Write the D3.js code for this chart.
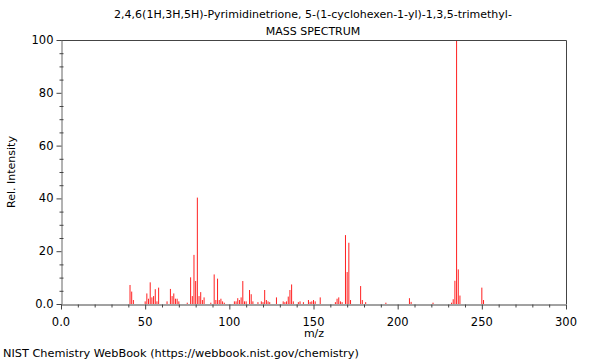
<!DOCTYPE html>
<html><head><meta charset="utf-8">
<script src="https://cdn.jsdelivr.net/npm/d3@7"></script>
<style>body{margin:0;background:#fff}svg{display:block}text{font-family:"DejaVu Sans",sans-serif;fill:#000}</style>
</head><body><svg id="c" width="600" height="360"></svg>
<script>
const titleLines = ["2,4,6(1H,3H,5H)-Pyrimidinetrione, 5-(1-cyclohexen-1-yl)-1,3,5-trimethyl-", "MASS SPECTRUM"];
const mzValues = [41,42,43,50,51,52,53,54,55,56,57,58,63,65,66,67,68,69,70,75,77,78,79,80,81,82,83,84,85,89,91,92,93,94,95,96,97,103,104,105,106,107,108,109,110,112,113,114,117,119,120,121,122,123,124,128,132,133,134,135,136,137,138,141,142,144,147,148,149,150,151,154,163,164,165,166,167,169,170,171,172,178,179,181,193,207,208,221,232,233,234,235,236,237,250,251];
const intensities = [7.2,4.7,1.5,1,4,2,8.2,2.5,3,5.6,1,6.2,1,5.7,3,4,2,2,1,0.5,10.1,3,18.6,8.7,40.3,3,4.5,1.5,2.5,0.5,11.2,1.5,9.6,1.5,2,1,0.5,1,1,2.2,1.5,2.5,8.7,1,1,5.3,3.7,1,0.7,1,0.7,5.3,1.5,1,0.7,2.5,1,0.7,1,2.8,5.3,7.4,1,0.7,1,0.7,1.5,0.8,1,1.5,1,2.5,0.7,2,2.5,1,0.7,26.1,12.1,23.2,1.5,6.8,1.5,0.7,0.5,2.2,0.8,0.5,0.5,1.8,8.8,100,13.1,3.2,6.2,1.5];
const xTicks = [0,50,100,150,200,250,300];
const xTickLabels = ["0.0","50","100","150","200","250","300"];
const yTicks = [0,20,40,60,80,100];
const yTickLabels = ["0.0","20","40","60","80","100"];
const xLabel = "m/z", yLabel = "Rel. Intensity";
const footer = "NIST Chemistry WebBook (https://webbook.nist.gov/chemistry)";

const svg = d3.select("#c");
const L=61, R=566, T=40, B=304;
const x = d3.scaleLinear().domain([0,300]).range([L,R]);
const y = d3.scaleLinear().domain([0,100]).range([B,T]);
const axisCol = "#444";

svg.selectAll("text.title").data(titleLines).join("text").attr("class","title")
  .attr("x",313).attr("y",(d,i)=>18+i*17).attr("text-anchor","middle").attr("font-size",11).text(d=>d);

svg.append("g").selectAll("line").data(mzValues).join("line")
  .attr("x1",d=>x(d)).attr("x2",d=>x(d)).attr("y1",y(0)).attr("y2",(d,i)=>y(intensities[i]))
  .attr("stroke","#ff2020").attr("stroke-width",1);

svg.append("path").attr("d",`M${L},${T+0.5}H${R+0.5}V${B}`).attr("fill","none").attr("stroke",axisCol).attr("stroke-width",1);

const gx = svg.append("g").attr("transform",`translate(0,${B+0.5})`);
gx.call(d3.axisBottom(x).tickValues(d3.range(0,301,10)).tickSize(3).tickFormat(""));
gx.call(g=>g.selectAll(".tick").filter(d=>d%50===0).select("line").attr("y2",5));
gx.select(".domain").attr("stroke",axisCol);
gx.selectAll(".tick line").attr("stroke",axisCol);
gx.selectAll("text.xl").data(xTicks).join("text").attr("class","xl")
  .attr("x",d=>x(d)).attr("y",21).attr("text-anchor","middle").attr("font-size",11.5)
  .text((d,i)=>xTickLabels[i]);

const gy = svg.append("g").attr("transform",`translate(${L+0.5},0)`);
gy.call(d3.axisLeft(y).tickValues(d3.range(0,101,5)).tickSize(2).tickFormat(""));
gy.call(g=>g.selectAll(".tick").filter(d=>d%20===0).select("line").attr("x2",-5));
gy.selectAll(".tick").filter(d=>d%20!==0).select("line").attr("x1",2);
gy.select(".domain").attr("stroke","#666");
gy.selectAll(".tick line").attr("stroke",axisCol);
gy.selectAll("text.yl").data(yTicks).join("text").attr("class","yl")
  .attr("x",-8).attr("y",d=>y(d)+4).attr("text-anchor","end").attr("font-size",11.5)
  .text((d,i)=>yTickLabels[i]);

svg.append("text").attr("x",314).attr("y",337).attr("text-anchor","middle").attr("font-size",11).text(xLabel);
svg.append("text").attr("transform","translate(15,172) rotate(-90)").attr("text-anchor","middle").attr("font-size",11).text(yLabel);
svg.append("text").attr("x",3).attr("y",357).attr("font-size",11.3).text(footer);
</script></body></html>
